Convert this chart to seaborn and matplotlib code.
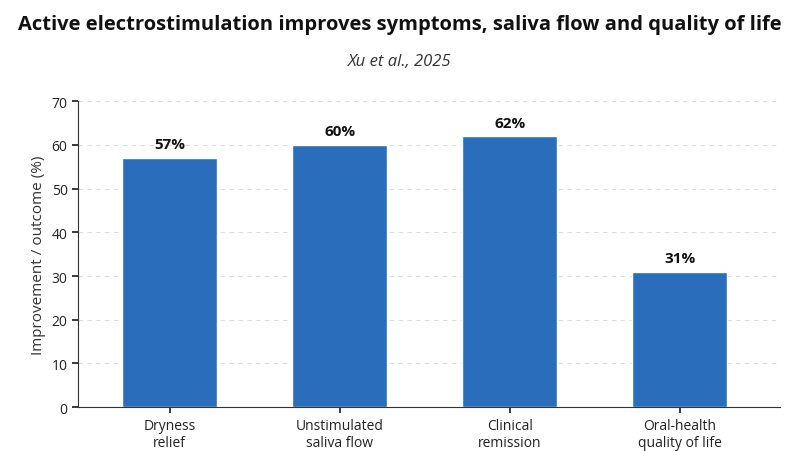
import matplotlib
matplotlib.use("Agg")
import matplotlib.pyplot as plt
import seaborn as sns
import pandas as pd

categories = ["Dryness\nrelief", "Unstimulated\nsaliva flow", "Clinical\nremission", "Oral-health\nquality of life"]
values = [57, 60, 62, 31]
labels = ["57%", "60%", "62%", "31%"]

sns.set_theme(style="white")
plt.rcParams["font.family"] = ["Open Sans", "DejaVu Sans"]

df = pd.DataFrame({"cat": categories, "val": values})

fig = plt.figure(figsize=(8, 4.52), dpi=100)
ax = fig.add_axes([0.0975, 0.097, 0.8775, 0.677])
sns.barplot(data=df, x="cat", y="val", color="#2a6ebb", width=0.56, saturation=1, ax=ax)
ax.set_xlim(-0.54, 3.59)
ax.set_ylim(0, 70)
ax.set_yticks(range(0, 71, 10))
ax.yaxis.grid(True, linestyle=(0, (4, 4)), color="#dddddd", linewidth=0.8)
ax.set_axisbelow(True)
for s in ["top", "right"]:
    ax.spines[s].set_visible(False)
for s in ["left", "bottom"]:
    ax.spines[s].set_color("#333333")
    ax.spines[s].set_linewidth(0.8)
ax.tick_params(axis="both", labelsize=10, colors="#222222", length=4, left=True, bottom=True)
ax.set_xlabel("")
ax.set_ylabel("Improvement / outcome (%)", fontsize=11, color="#333333")
for i, (v, t) in enumerate(zip(values, labels)):
    ax.text(i, v + 1.5, t, ha="center", va="bottom", fontsize=11, fontweight="bold", color="#111111")

fig.text(0.5, 0.945, "Active electrostimulation improves symptoms, saliva flow and quality of life",
         ha="center", va="center", fontsize=14.5, fontweight="bold", color="#111111")
fig.text(0.5, 0.862, "Xu et al., 2025", ha="center", va="center", fontsize=12,
         fontstyle="italic", color="#333333")

fig.savefig("out.png", dpi=100)
